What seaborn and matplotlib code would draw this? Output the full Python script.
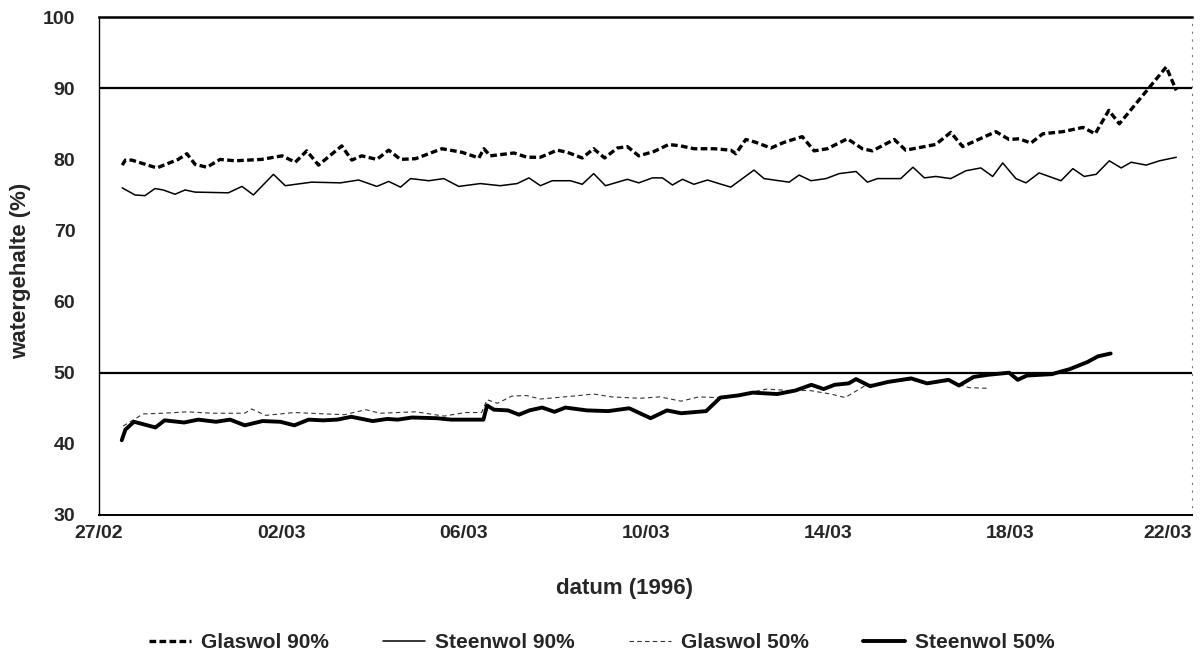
import numpy as np
import pandas as pd
import matplotlib
matplotlib.use("Agg")
import matplotlib.pyplot as plt
from matplotlib.lines import Line2D
import seaborn as sns

# ---- data (days after 27/02/1996 00:00, water content %) ----
glas90_days = [0.51, 0.58, 0.72, 1.27, 1.74, 1.93, 2.11, 2.37, 2.66, 2.99, 3.57, 4.02, 4.31, 4.56,
               4.82, 5.33, 5.55, 5.77, 6.10, 6.36, 6.62, 6.95, 7.53, 7.97, 8.34, 8.45, 8.59, 9.11,
               9.40, 9.69, 10.06, 10.28, 10.61, 10.86, 11.10, 11.38, 11.60, 11.85, 12.18, 12.51,
               12.77, 13.06, 13.50, 13.87, 13.98, 14.20, 14.42, 14.75, 15.04, 15.44, 15.70, 15.99,
               16.43, 16.76, 16.98, 17.46, 17.71, 18.37, 18.70, 18.96, 19.69, 19.98, 20.20, 20.46,
               20.72, 21.16, 21.60, 21.87, 22.17, 22.40, 23.43, 23.65]
glas90_vals = [79.2, 79.9, 79.9, 78.8, 80.0, 80.8, 79.3, 78.9, 80.0, 79.8, 80.0, 80.5, 79.6, 81.2,
               79.2, 81.9, 79.9, 80.5, 80.0, 81.3, 80.0, 80.1, 81.5, 81.0, 80.2, 81.5, 80.5, 80.9,
               80.3, 80.3, 81.3, 81.0, 80.2, 81.5, 80.2, 81.6, 81.8, 80.5, 81.1, 82.1,
               81.9, 81.5, 81.5, 81.3, 80.8, 82.8, 82.4, 81.6, 82.4, 83.2, 81.2, 81.5,
               82.9, 81.5, 81.2, 82.8, 81.3, 82.1, 83.8, 81.8, 83.9, 82.8, 82.9, 82.3,
               83.6, 83.9, 84.5, 83.6, 86.9, 85.0, 93.0, 89.7]

steen90_days = [0.51, 0.79, 1.01, 1.23, 1.41, 1.67, 1.89, 2.11, 2.84, 3.14, 3.39, 3.83, 4.09, 4.67,
                5.30, 5.70, 6.10, 6.36, 6.62, 6.84, 7.24, 7.57, 7.90, 8.37, 8.81, 9.18, 9.44, 9.69,
                9.95, 10.35, 10.61, 10.86, 11.12, 11.60, 11.85, 12.15, 12.37, 12.59, 12.81, 13.06,
                13.36, 13.61, 13.87, 14.38, 14.60, 15.15, 15.37, 15.63, 15.96, 16.25, 16.62, 16.87,
                17.09, 17.60, 17.87, 18.12, 18.37, 18.70, 19.03, 19.36, 19.62, 19.84, 20.13, 20.35,
                20.64, 21.12, 21.38, 21.63, 21.89, 22.18, 22.44, 22.66, 22.99, 23.28, 23.65]
steen90_vals = [76.0, 75.0, 74.9, 75.9, 75.7, 75.1, 75.7, 75.4, 75.3, 76.2, 75.0, 77.9, 76.3, 76.8,
                76.7, 77.1, 76.2, 76.9, 76.1, 77.3, 77.0, 77.3, 76.2, 76.6, 76.3, 76.6, 77.4, 76.3,
                77.0, 77.0, 76.5, 78.0, 76.3, 77.2, 76.7, 77.4, 77.4, 76.4, 77.2, 76.5,
                77.1, 76.6, 76.1, 78.5, 77.3, 76.8, 77.8, 77.0, 77.3, 78.0, 78.3, 76.8,
                77.3, 77.3, 78.9, 77.4, 77.6, 77.3, 78.4, 78.8, 77.6, 79.5, 77.3, 76.7,
                78.1, 77.0, 78.7, 77.6, 77.9, 79.8, 78.8, 79.6, 79.2, 79.8, 80.3]

glas50_days = [0.53, 0.97, 1.40, 1.94, 2.49, 3.20, 3.35, 3.66, 4.29, 4.99, 5.39, 5.86, 6.17, 6.95,
               7.58, 8.04, 8.40, 8.52, 8.75, 9.06, 9.38, 9.69, 10.39, 10.86, 11.25, 11.88, 12.31,
               12.78, 13.17, 13.56, 13.96, 14.66, 15.13, 15.60, 16.07, 16.38, 16.85, 17.32, 17.83,
               18.18, 18.65, 19.10, 19.52]
glas50_vals = [42.5, 44.2, 44.3, 44.5, 44.3, 44.3, 44.9, 44.0, 44.4, 44.2, 44.1, 44.8, 44.3, 44.5,
               43.9, 44.4, 44.4, 46.2, 45.7, 46.7, 46.8, 46.3, 46.7, 47.0, 46.6, 46.4, 46.6,
               46.0, 46.6, 46.5, 46.8, 47.7, 47.5, 47.5, 47.0, 46.5, 48.3, 48.6, 49.0,
               48.4, 48.8, 47.9, 47.8]

steen50_days = [0.50, 0.58, 0.77, 1.24, 1.44, 1.87, 2.18, 2.57, 2.88, 3.20, 3.59, 3.98, 4.29, 4.60,
                4.92, 5.23, 5.54, 6.01, 6.33, 6.56, 6.87, 7.42, 7.73, 8.44, 8.52, 8.67, 8.98, 9.22,
                9.45, 9.73, 10.00, 10.24, 10.71, 11.18, 11.64, 12.11, 12.47, 12.78, 13.33, 13.64,
                14.03, 14.35, 14.89, 15.29, 15.64, 15.91, 16.15, 16.46, 16.62, 16.93, 17.32, 17.83,
                18.18, 18.65, 18.88, 19.20, 19.51, 19.98, 20.17, 20.37, 20.92, 21.31, 21.70, 21.93,
                22.21]
steen50_vals = [40.5, 42.0, 43.1, 42.3, 43.3, 43.0, 43.4, 43.1, 43.4, 42.6, 43.2, 43.1, 42.6, 43.4,
                43.3, 43.4, 43.8, 43.2, 43.5, 43.4, 43.7, 43.6, 43.4, 43.4, 45.4, 44.8, 44.7, 44.1,
                44.7, 45.1, 44.5, 45.1, 44.7, 44.6, 45.0, 43.6, 44.7, 44.3, 44.6, 46.5,
                46.8, 47.2, 47.0, 47.5, 48.3, 47.7, 48.3, 48.5, 49.1, 48.1, 48.7, 49.2,
                48.5, 49.0, 48.2, 49.4, 49.7, 50.0, 49.0, 49.6, 49.8, 50.5, 51.5, 52.3,
                52.7]

series_names = ["Glaswol 90%", "Steenwol 90%", "Glaswol 50%", "Steenwol 50%"]
tick_labels = ["27/02", "02/03", "06/03", "10/03", "14/03", "18/03", "22/03"]
y_ticks = [30, 40, 50, 60, 70, 80, 90, 100]
grid_values = [50, 90]

base = pd.Timestamp("1996-02-27")
frames = []
for name, d, v in zip(series_names,
                      [glas90_days, steen90_days, glas50_days, steen50_days],
                      [glas90_vals, steen90_vals, glas50_vals, steen50_vals]):
    frames.append(pd.DataFrame({"datum": base + pd.to_timedelta(d, unit="D"),
                                "waarde": v, "reeks": name}))
df = pd.concat(frames, ignore_index=True)

styles = {
    "Glaswol 90%": dict(lw=2.4, ls=(0, (2.0, 1.0)), color="black"),
    "Steenwol 90%": dict(lw=1.1, ls="-", color="black"),
    "Glaswol 50%": dict(lw=0.8, ls=(0, (4, 3)), color="#333333"),
    "Steenwol 50%": dict(lw=2.8, ls="-", color="black"),
}

sns.set_theme(style="white")
plt.rcParams["font.family"] = ["Liberation Sans", "DejaVu Sans"]
plt.rcParams["font.weight"] = "bold"

fig = plt.figure(figsize=(12.04, 6.61), dpi=100)
ax = fig.add_axes([0.0822, 0.221, 0.908, 0.753])

for g in grid_values:
    ax.axhline(g, color="black", lw=1.6, zorder=1)

for name in series_names:
    st = styles[name]
    sub = df[df["reeks"] == name]
    sns.lineplot(data=sub, x="datum", y="waarde", ax=ax, color=st["color"],
                 linewidth=st["lw"], linestyle=st["ls"], estimator=None, legend=False,
                 zorder=3)

tick_dates = [pd.to_datetime(t + "/1996", format="%d/%m/%Y") for t in tick_labels]
ax.set_xlim(tick_dates[0], tick_dates[-1])
ax.set_ylim(30, 100)
ax.set_xticks(tick_dates)
ax.set_xticklabels(tick_labels)
ax.set_yticks(y_ticks)
ax.set_yticklabels([str(t) for t in y_ticks])

for lab in ax.get_xticklabels():
    lab.set_fontweight("bold")
    lab.set_fontsize(14)
ax.get_xticklabels()[-1].set_horizontalalignment("right")
for lab in ax.get_yticklabels():
    lab.set_fontweight("bold")
    lab.set_fontsize(14)

ax.tick_params(axis="x", direction="in", length=9, width=0.9, pad=7, color="black")
ax.tick_params(axis="y", direction="in", length=11, width=1.2, pad=17, color="black")

ax.set_xlabel("datum (1996)", fontsize=16, fontweight="bold")
ax.set_ylabel("watergehalte (%)", fontsize=16, fontweight="bold")
ax.xaxis.set_label_coords(0.481, -0.127)
ax.yaxis.set_label_coords(-0.062, 0.49)

for side in ["left", "bottom", "top"]:
    ax.spines[side].set_visible(True)
    ax.spines[side].set_color("black")
ax.spines["left"].set_linewidth(1.0)
ax.spines["bottom"].set_linewidth(1.4)
ax.spines["top"].set_linewidth(1.8)
ax.spines["right"].set_visible(True)
ax.spines["right"].set_color("#777777")
ax.spines["right"].set_linewidth(0.8)
ax.spines["right"].set_linestyle((0, (1, 6)))
ax.grid(False)

handles = [Line2D([0], [0], color=styles[n]["color"], lw=styles[n]["lw"],
                  ls=styles[n]["ls"]) for n in series_names]
fig.legend(handles, series_names, loc="center", bbox_to_anchor=(0.50, 0.028), ncol=4,
           frameon=False, handlelength=2.0, columnspacing=2.6, handletextpad=0.5,
           prop={"weight": "bold", "size": 15})

fig.savefig("out.png", dpi=100, facecolor="white")
